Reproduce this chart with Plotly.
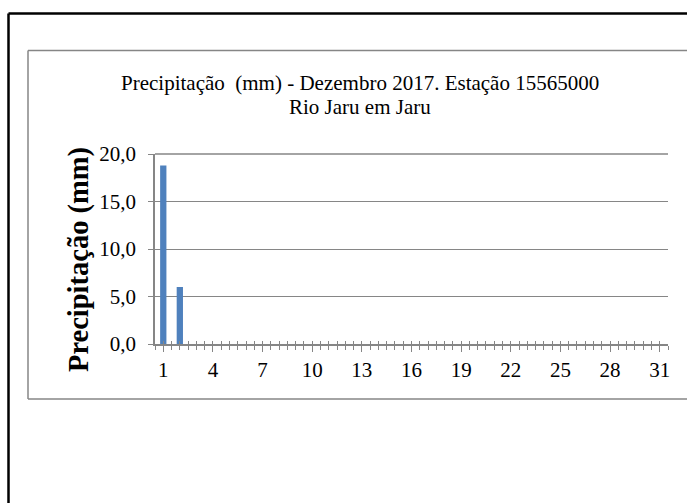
import plotly.graph_objects as go

days = list(range(1, 32))
precip = [18.8, 6.0] + [0.0] * 29
x_tick_vals = list(range(1, 32, 3))
x_tick_text = [str(v) for v in x_tick_vals]
y_tick_vals = [0, 5, 10, 15, 20]

title_line1 = "Precipitação  (mm) - Dezembro 2017. Estação 15565000"
title_line2 = "Rio Jaru em Jaru"
y_title = "Precipitação (mm)"

W, H = 690, 503
L, R, T, B = 155, 668, 154, 344  # plot area in px

def px(x):
    return (x - L) / (R - L)

def py(y):
    return 1 - (y - T) / (B - T)

FONT = "Liberation Serif, Times New Roman, serif"
GRAY = "#868686"

def seg(x0, y0, x1, y1, color, width):
    return dict(type="line", xref="paper", yref="paper", x0=px(x0), y0=py(y0), x1=px(x1), y1=py(y1),
                line=dict(color=color, width=width), layer="above")

fig = go.Figure()
fig.add_trace(go.Bar(x=days, y=precip, width=0.38, marker=dict(color="#4F81BD", line=dict(width=0)),
                     hoverinfo="x+y"))

fig.update_layout(
    width=W, height=H,
    margin=dict(l=L, r=W - R, t=T, b=H - B, pad=0),
    paper_bgcolor="white", plot_bgcolor="white",
    separators=",.",
    showlegend=False,
    font=dict(family=FONT, color="black", size=21),
    xaxis=dict(
        range=[0.5, 31.5], tickvals=x_tick_vals, ticktext=x_tick_text,
        ticks="outside", ticklen=6, tickcolor=GRAY, tickwidth=1.3,
        minor=dict(tick0=0.5, dtick=0.5, ticks="outside", ticklen=4, tickcolor=GRAY, tickwidth=1.3, showgrid=False),
        showline=True, linecolor=GRAY, linewidth=1.5, showgrid=False, zeroline=False,
        tickfont=dict(size=21, family=FONT), ticklabelstandoff=0,
    ),
    xaxis2=dict(
        range=[0.5, 31.5], overlaying="x", anchor="y", side="bottom",
        tick0=0.5, dtick=0.5, ticks="inside", ticklen=3, tickcolor=GRAY, tickwidth=1.3,
        showticklabels=False, showline=False, showgrid=False, zeroline=False,
    ),
    yaxis=dict(
        range=[0, 20], tickvals=y_tick_vals, tickformat=".1f",
        ticks="outside", ticklen=5, tickcolor=GRAY, tickwidth=1.3,
        showline=True, linecolor=GRAY, linewidth=1.5,
        showgrid=True, gridcolor=GRAY, gridwidth=1.3, zeroline=False,
        tickfont=dict(size=21, family=FONT), ticklabelstandoff=8,
        mirror=False,
    ),
    shapes=[
        # outer page frame (black): top and left edges
        seg(8.5, 13.5, 687, 13.5, "black", 2.5),
        seg(8.5, 13.5, 8.5, 503, "black", 2.5),
        # chart area frame (gray): top, left, bottom edges
        seg(28, 50.5, 687, 50.5, GRAY, 1.5),
        seg(28, 50.5, 28, 399, GRAY, 1.5),
        seg(28, 399, 687, 399, GRAY, 1.5),
        # top gridline reinforcement
        dict(type="line", xref="paper", yref="paper", x0=0, x1=1, y0=1, y1=1,
             line=dict(color=GRAY, width=1.3), layer="below"),
    ],
    annotations=[
        dict(text=title_line1, xref="paper", yref="paper", x=px(360), y=py(83), xanchor="center", yanchor="middle",
             showarrow=False, font=dict(size=21, family=FONT)),
        dict(text=title_line2, xref="paper", yref="paper", x=px(360), y=py(107), xanchor="center", yanchor="middle",
             showarrow=False, font=dict(size=21, family=FONT)),
        dict(text="<b>" + y_title + "</b>", xref="paper", yref="paper", x=px(79), y=py(260), xanchor="center",
             yanchor="middle", textangle=-90, showarrow=False, font=dict(size=28.5, family=FONT)),
    ],
)
fig.add_trace(go.Scatter(x=[], y=[], xaxis="x2", yaxis="y", showlegend=False, hoverinfo="skip"))

fig.write_html("out.html", config={"displayModeBar": False},
               post_script="document.body.style.margin='0';document.body.style.overflow='hidden';")
